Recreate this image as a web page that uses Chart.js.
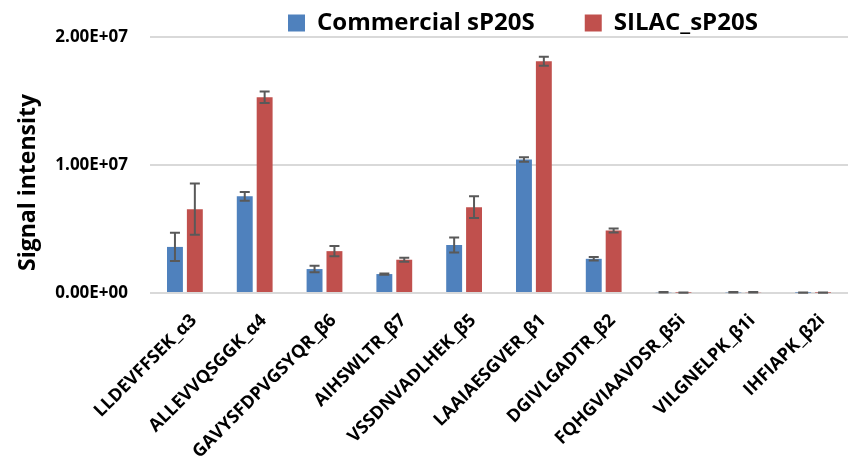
<!DOCTYPE html>
<html>
<head>
<meta charset="utf-8">
<script src="https://cdn.jsdelivr.net/npm/chart.js@4/dist/chart.umd.min.js"></script>
<style>
  html, body { margin: 0; padding: 0; background: #fff; }
  #wrap { width: 848px; height: 466px; }
</style>
</head>
<body>
<div id="wrap"><canvas id="grafica"></canvas></div>
<script>
// Datos
const peptidos = ['LLDEVFFSEK_α3', 'ALLEVVQSGGK_α4', 'GAVYSFDPVGSYQR_β6', 'AIHSWLTR_β7',
  'VSSDNVADLHEK_β5', 'LAAIAESGVER_β1', 'DGIVLGADTR_β2', 'FQHGVIAAVDSR_β5i',
  'VILGNELPK_β1i', 'IHFIAPK_β2i'];
const comercial = [3.6e6, 7.55e6, 1.87e6, 1.48e6, 3.75e6, 1.043e7, 2.67e6, 6e4, 5e4, 3e4];
const comercialErr = [1.1e6, 0.35e6, 0.25e6, 0.05e6, 0.58e6, 0.17e6, 0.14e6, 2e4, 2e4, 1e4];
const silac = [6.55e6, 1.53e7, 3.27e6, 2.6e6, 6.7e6, 1.81e7, 4.88e6, 3e4, 6e4, 3e4];
const silacErr = [2.0e6, 0.45e6, 0.4e6, 0.15e6, 0.85e6, 0.35e6, 0.15e6, 1e4, 2e4, 1e4];
const ticksY = ['0.00E+00', '1.00E+07', '2.00E+07'];

const fuente = '"Open Sans", Lato, "DejaVu Sans", sans-serif';
const PAD_LEYENDA = 50;

// Plugin: barras de error
const barrasError = {
  id: 'barrasError',
  afterDatasetsDraw(chart) {
    const ctx = chart.ctx;
    const y = chart.scales.y;
    chart.data.datasets.forEach((ds, i) => {
      const meta = chart.getDatasetMeta(i);
      meta.data.forEach((bar, j) => {
        const v = ds.data[j], e = ds.errores[j];
        const yTop = y.getPixelForValue(v + e);
        const yBot = y.getPixelForValue(Math.max(0, v - e));
        ctx.save();
        ctx.strokeStyle = '#595959';
        ctx.lineWidth = 2;
        ctx.beginPath();
        ctx.moveTo(bar.x, yTop); ctx.lineTo(bar.x, yBot);
        ctx.moveTo(bar.x - 5, yTop); ctx.lineTo(bar.x + 5, yTop);
        ctx.moveTo(bar.x - 5, yBot); ctx.lineTo(bar.x + 5, yBot);
        ctx.stroke();
        ctx.restore();
      });
    });
  }
};

// Plugin: colocar la leyenda y el titulo del eje como en el original
const ajustarLayout = {
  id: 'ajustarLayout',
  afterLayout(chart) {
    const l = chart.legend;
    if (l) {
      l.left = 288 - PAD_LEYENDA;
      l.top = 11 - PAD_LEYENDA;
    }
    // solo desplaza el titulo del eje Y (la escala ya esta configurada)
    chart.scales.y.bottom += 35;
  }
};

new Chart(document.getElementById('grafica'), {
  type: 'bar',
  data: {
    labels: peptidos,
    datasets: [
      { label: 'Commercial sP20S', data: comercial, errores: comercialErr,
        backgroundColor: '#4f81bd', categoryPercentage: 0.57, barPercentage: 0.8 },
      { label: 'SILAC_sP20S', data: silac, errores: silacErr,
        backgroundColor: '#c0504d', categoryPercentage: 0.57, barPercentage: 0.8 }
    ]
  },
  options: {
    responsive: true,
    maintainAspectRatio: false,
    animation: false,
    layout: { padding: { left: 8, right: -5, top: 0, bottom: 0 } },
    plugins: {
      legend: {
        position: 'top',
        align: 'start',
        maxHeight: 37,
        labels: {
          boxWidth: 17, boxHeight: 17, padding: PAD_LEYENDA,
          color: '#000',
          font: { family: fuente, size: 24, weight: 'bold' }
        }
      },
      tooltip: { enabled: false }
    },
    scales: {
      y: {
        min: 0, max: 2e7,
        afterFit: (s) => { s.width = 142; },
        ticks: {
          stepSize: 1e7,
          padding: 22,
          color: '#000',
          font: { family: fuente, size: 17, weight: 'bold' },
          callback: (v, i) => ticksY[i]
        },
        title: {
          display: true, text: 'Signal intensity', color: '#000',
          padding: { top: 7, bottom: 4 },
          font: { family: fuente, size: 23, weight: 'bold' }
        },
        grid: { color: '#d9d9d9', lineWidth: 2, drawTicks: false },
        border: { display: false }
      },
      x: {
        afterFit: (s) => { s.paddingLeft = 0; s.paddingRight = 0; s.height = 173; },
        ticks: {
          minRotation: 45, maxRotation: 45, padding: 9, labelOffset: 9,
          color: '#000',
          font: { family: fuente, size: 18, weight: 'bold' }
        },
        grid: { display: false },
        border: { display: false }
      }
    }
  },
  plugins: [barrasError, ajustarLayout]
});
</script>
</body>
</html>
